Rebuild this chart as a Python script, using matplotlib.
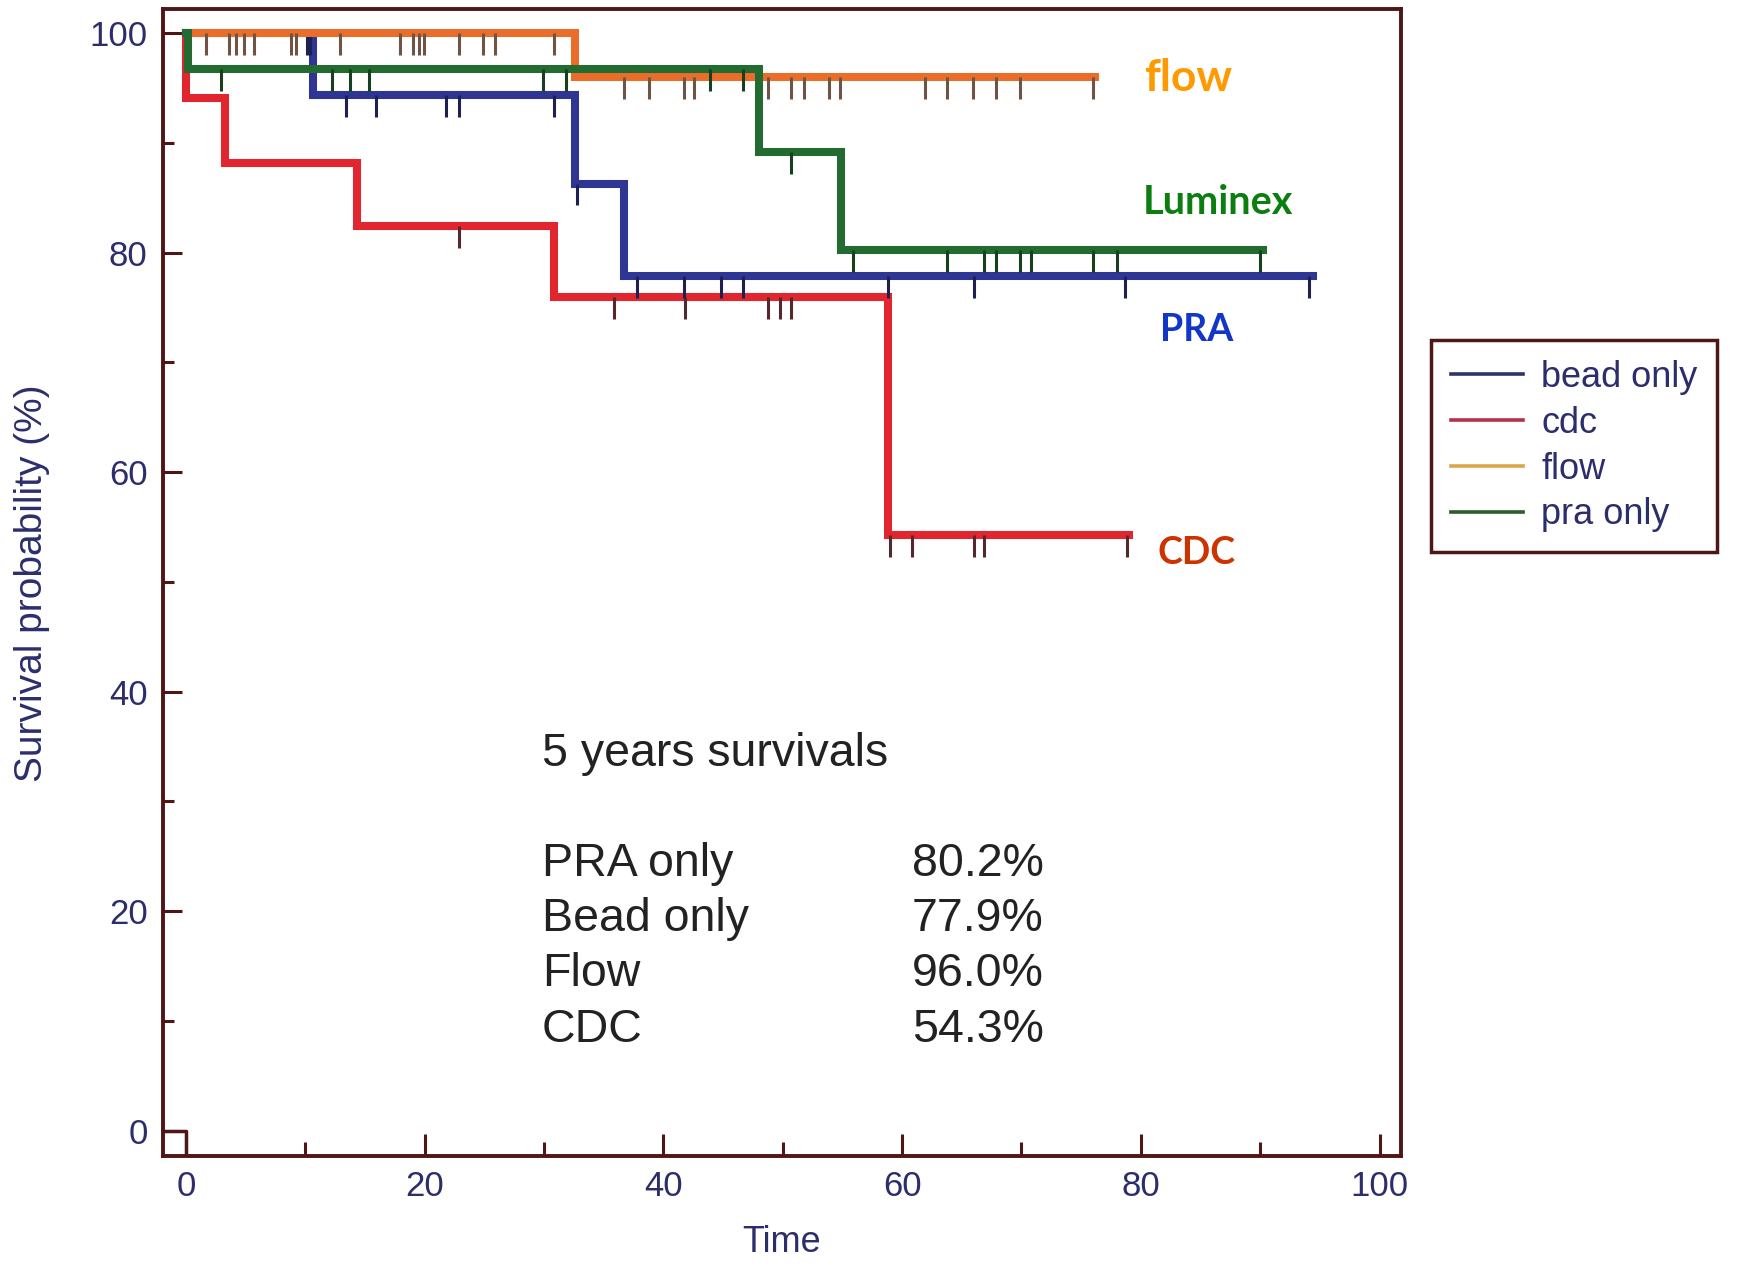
import matplotlib.pyplot as plt
from matplotlib.lines import Line2D
import numpy as np

plt.rcParams['font.family'] = ['Liberation Sans', 'DejaVu Sans']

# Kaplan-Meier curves: event times, survival after each event, last follow-up, censored times
bead_times = [10.6, 32.6, 36.7]
bead_surv = [94.4, 86.3, 77.9]
bead_end = 94.4
bead_censor = [10.1, 10.4, 13.4, 15.9, 21.8, 22.9, 30.8, 32.8,
               37.8, 41.7, 44.8, 46.7, 58.8, 66.0, 78.7, 94.1]

cdc_times = [0.0, 3.3, 14.3, 30.8, 58.8]
cdc_surv = [94.1, 88.2, 82.4, 76.0, 54.3]
cdc_end = 79.0
cdc_censor = [22.9, 35.9, 41.8, 48.8, 49.8, 50.7, 59.0, 60.8, 66.0, 66.9, 78.8]

flow_times = [32.6]
flow_surv = [96.0]
flow_end = 76.2
flow_censor = [1.7, 3.6, 4.2, 4.9, 5.7, 8.8, 9.2, 12.9, 17.9, 19.0, 19.5, 19.9,
               22.9, 24.9, 25.9, 30.8, 36.7, 38.8, 41.7, 42.6, 48.8, 50.7, 51.8,
               53.9, 54.8, 61.9, 63.8, 65.9, 67.9, 69.9, 76.0]

pra_times = [0.2, 48.0, 54.9]
pra_surv = [96.7, 89.2, 80.2]
pra_end = 90.2
pra_censor = [2.9, 12.2, 13.7, 15.3, 29.9, 31.8, 43.9, 46.7, 50.7,
              55.9, 63.8, 66.9, 67.9, 69.9, 70.8, 76.0, 78.0, 90.0]

legend_labels = ['bead only', 'cdc', 'flow', 'pra only']
summary_groups = ['PRA only', 'Bead only', 'Flow', 'CDC']
summary_values = ['80.2%', '77.9%', '96.0%', '54.3%']

maroon = '#4f1616'
navy = '#2c2e6c'


def km_steps(times, surv, end):
    x = [0.0] + list(times) + [end]
    y = [100.0] + list(surv) + [surv[-1]]
    return x, y


def level_at(t, times, surv):
    levels = [100.0] + list(surv)
    return np.array(levels)[np.searchsorted(times, t, side='right')]


def draw_curve(ax, times, surv, end, censor, color, tick_color):
    x, y = km_steps(times, surv, end)
    ax.step(x, y, where='post', color=color, lw=5.8, solid_joinstyle='miter')
    c = np.array(censor)
    lv = level_at(c, times, surv)
    ax.vlines(c, lv - 2.0, lv, color=tick_color, lw=2.2)


fig = plt.figure(figsize=(17.43, 12.68), dpi=100)
ax = fig.add_axes([0.0935, 0.0883, 0.7103, 0.9046])

draw_curve(ax, cdc_times, cdc_surv, cdc_end, cdc_censor, '#e1262f', '#55282e')
draw_curve(ax, bead_times, bead_surv, bead_end, bead_censor, '#2f3592', '#1c2052')
draw_curve(ax, flow_times, flow_surv, flow_end, flow_censor, '#ea6e2a', '#6e5444')
draw_curve(ax, pra_times, pra_surv, pra_end, pra_censor, '#236b30', '#183f1e')

# small bracket at the origin
ax.plot([-3, 0, 0], [0, 0, -3], color=maroon, lw=2.5)

ax.set_xlim(-1.93, 101.8)
ax.set_ylim(-2.3, 102.2)
ax.set_xticks(np.arange(0, 101, 20))
ax.set_xticks(np.arange(10, 100, 20), minor=True)
ax.set_yticks(np.arange(0, 101, 20))
ax.set_yticks(np.arange(10, 100, 20), minor=True)
ax.tick_params(which='both', direction='in', color=maroon, width=2.2,
               labelcolor=navy, labelsize=25)
ax.tick_params(axis='x', which='major', length=16, pad=10)
ax.tick_params(axis='x', which='minor', length=10)
ax.tick_params(axis='y', which='major', length=14, pad=11)
ax.tick_params(axis='y', which='minor', length=8)
for s in ax.spines.values():
    s.set_color(maroon)
    s.set_linewidth(2.8)

ax.set_xlabel('Time', fontsize=26, color=navy)
ax.set_ylabel('Survival probability (%)', fontsize=28, color=navy)
ax.xaxis.set_label_coords(0.4996, -0.060)
ax.yaxis.set_label_coords(-0.091, 0.499)

# group names next to the curves
label_font = ['Lato', 'DejaVu Sans']
ax.text(84.0, 95.9, 'flow', color='#ff9900', fontsize=32, fontweight='bold',
        family=label_font, ha='center', va='center')
ax.text(86.5, 84.6, 'Luminex', color='#0a7f10', fontsize=28.5, fontweight='bold',
        family=label_font, ha='center', va='center')
ax.text(84.7, 73.0, 'PRA', color='#1236c8', fontsize=27, fontweight='bold',
        family=label_font, ha='center', va='center')
ax.text(84.7, 52.6, 'CDC', color='#cc3300', fontsize=27, fontweight='bold',
        family=label_font, ha='center', va='center')

# 5 year survival table
ax.text(29.8, 34.3, '5 years survivals', fontsize=33.5, color='#222222', va='center')
for i, (g, v) in enumerate(zip(summary_groups, summary_values)):
    yy = 24.3 - i * 5.03
    ax.text(29.8, yy, g, fontsize=33.5, color='#222222', va='center')
    ax.text(60.8, yy, v, fontsize=33.5, color='#222222', va='center')

handles = [Line2D([], [], color=c, lw=2.6)
           for c in ['#2e3566', '#b5304a', '#d9a64a', '#2e5a2e']]
leg = fig.legend(handles, legend_labels, loc='upper left',
                 bbox_to_anchor=(1431 / 1743, 1 - 340 / 1268), borderaxespad=0,
                 fontsize=26, handlelength=2.0, handletextpad=0.5,
                 labelspacing=0.3, borderpad=0.55, fancybox=False,
                 edgecolor=maroon, framealpha=1)
leg.get_frame().set_linewidth(2.5)
for t in leg.get_texts():
    t.set_color(navy)

fig.savefig('out.png', dpi=100)
